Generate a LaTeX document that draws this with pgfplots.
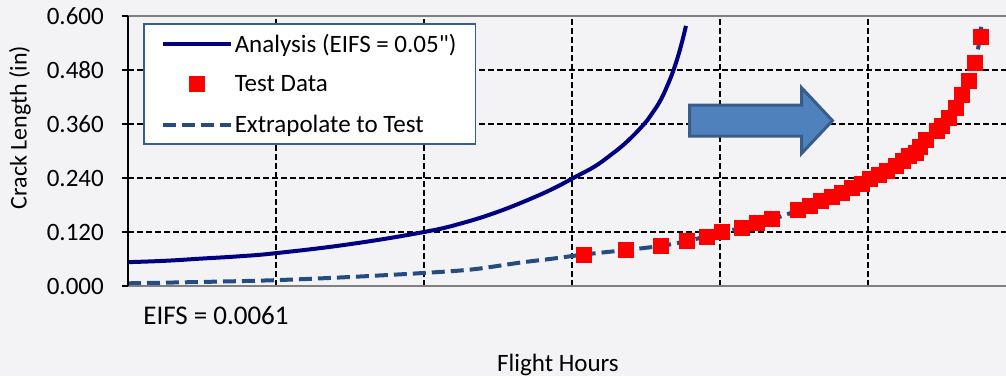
\documentclass[border=0pt]{standalone}
\usepackage{pgfplots}
\pgfplotsset{compat=1.18}
\usepackage{fontspec}
\setmainfont{Carlito}
% same face without TeX quote ligatures, for a straight inch mark
\newfontfamily\plainfont{Carlito}

\definecolor{bg}{RGB}{243,243,246}
\definecolor{analysis}{RGB}{0,0,128}
\definecolor{extrap}{RGB}{36,76,128}
\definecolor{legendframe}{RGB}{54,95,145}
\definecolor{arrowfill}{RGB}{79,129,189}
\definecolor{arrowedge}{RGB}{56,93,138}
\definecolor{axisgray}{RGB}{128,128,128}

\begin{document}
\begin{tikzpicture}[x=1pt,y=1pt]
\path[use as bounding box, fill=bg] (0,0) rectangle (1006,376);
\begin{axis}[
  at={(128pt,90pt)}, anchor=south west,
  scale only axis, width=878pt, height=270pt,
  xmin=0, xmax=5.9324, ymin=0, ymax=0.6,
  clip=false,
  xtick={1,2,3,4,5}, xticklabels={},
  xtick style={draw=none},
  ytick={0,0.12,0.24,0.36,0.48,0.6},
  ytick style={black, line width=1.5pt},
  tick align=outside, major tick length=6pt,
  yticklabel style={font=\fontsize{25}{29}\selectfont, inner sep=2pt, xshift=-16pt},
  /pgf/number format/.cd, fixed, fixed zerofill, precision=3, assume math mode=true,
  /pgfplots/.cd,
  grid=major,
  major grid style={black, line width=1.4pt, dash pattern=on 6pt off 3pt},
  axis line style={draw=none},
  ylabel={Crack Length (in)},
  ylabel style={font=\fontsize{24}{28}\selectfont, at={(axis description cs:-0.123,0.587)}, anchor=center},
  xlabel={Flight Hours},
  xlabel style={font=\fontsize{25}{29}\selectfont, at={(axis description cs:0.4897,-0.2926)}, anchor=center},
  legend style={at={(rel axis cs:0.0171,0.974)}, anchor=north west,
    draw=legendframe, line width=1.5pt, fill=white,
    font=\fontsize{25}{29}\selectfont,
    inner xsep=17pt, inner ysep=8pt, row sep=18pt,
    nodes={inner sep=2pt}},
  legend cell align=left,
  legend image code/.code={\draw[mark repeat=2,mark phase=2,#1] plot coordinates {(0pt,0pt) (34pt,0pt) (68pt,0pt)};},
]

% extrapolation from the test data back to time zero
\addplot[extrap, line width=4pt, dash pattern=on 13pt off 6pt, smooth, tension=0.5, forget plot] coordinates {
  (0,0.006) (0.5,0.009) (1.0,0.013) (1.5,0.020) (2.0,0.029) (2.33,0.037)
  (2.65,0.052) (2.85,0.060) (3.081,0.070) (3.365,0.080) (3.599,0.089)
  (3.779,0.100) (4.014,0.119) (4.252,0.138) (4.529,0.168) (4.755,0.198)
  (5.014,0.237) (5.239,0.277) (5.390,0.322) (5.547,0.373) (5.682,0.455)
  (5.723,0.495) (5.745,0.530) (5.765,0.576)
};

% analysis prediction with 0.05 in initial flaw
\addplot[analysis, line width=4pt, smooth, tension=0.7] coordinates {
  (0,0.053) (0.25,0.056) (0.5,0.061) (0.75,0.066) (1.0,0.073) (1.5,0.093)
  (2.0,0.120) (2.25,0.139) (2.5,0.165) (2.75,0.198) (2.919,0.224)
  (3.02,0.242) (3.15,0.265) (3.257,0.290) (3.369,0.320) (3.482,0.358)
  (3.538,0.382) (3.595,0.411) (3.640,0.442) (3.685,0.479) (3.730,0.526)
  (3.770,0.578)
};
\addlegendentry{Analysis (EIFS = 0.05{\plainfont"})}

% measured crack lengths
\addplot[only marks, mark=square*, mark size=7.5pt, mark options={fill=red, draw=red, line width=0pt}] coordinates {
  (3.081,0.070) (3.365,0.080) (3.599,0.089) (3.779,0.100) (3.914,0.109)
  (4.014,0.119) (4.151,0.129) (4.252,0.139) (4.351,0.148) (4.529,0.168)
  (4.608,0.178) (4.680,0.189) (4.755,0.198) (4.822,0.207) (4.890,0.217)
  (4.957,0.226) (5.014,0.237) (5.076,0.246) (5.130,0.255) (5.189,0.266)
  (5.239,0.277) (5.277,0.288) (5.322,0.296) (5.351,0.310) (5.390,0.325)
  (5.468,0.344) (5.502,0.355) (5.547,0.373) (5.593,0.396) (5.637,0.425)
  (5.682,0.455) (5.723,0.495) (5.761,0.554)
};
\addlegendentry{Test Data}

\addlegendimage{extrap, line width=4pt, dash pattern=on 13pt off 6pt}
\addlegendentry{Extrapolate to Test}

% shift arrow
\draw[fill=arrowfill, draw=arrowedge, line width=3pt, line join=miter]
  (axis cs:3.794,0.3332) -- (axis cs:3.794,0.4018) -- (axis cs:4.551,0.4018)
  -- (axis cs:4.551,0.4406) -- (axis cs:4.760,0.3675) -- (axis cs:4.551,0.2945)
  -- (axis cs:4.551,0.3332) -- cycle;

% frame lines
\draw[axisgray, line width=2.5pt] (rel axis cs:0,0) -- (rel axis cs:1,0);
\draw[axisgray, line width=2pt] (rel axis cs:0,1) -- (rel axis cs:1,1);
\draw[black, line width=2pt] (rel axis cs:0,0) -- (rel axis cs:0,1);
\end{axis}
\node[font=\fontsize{27}{31}\selectfont] at (216,61) {EIFS = 0.0061};
\end{tikzpicture}
\end{document}
